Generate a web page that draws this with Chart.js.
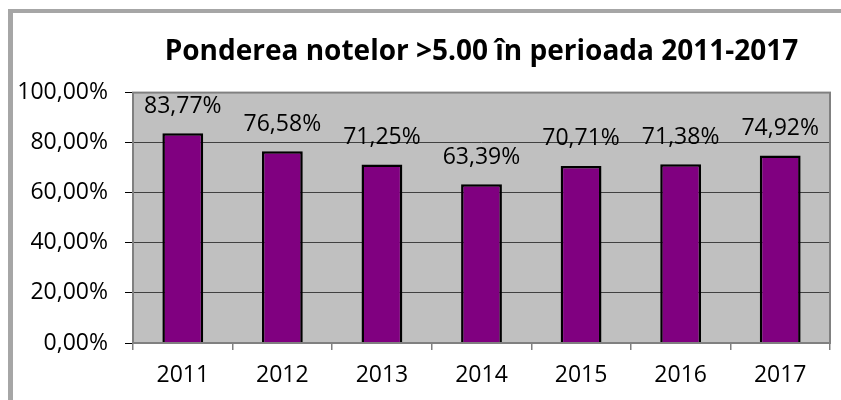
<!DOCTYPE html>
<html>
<head>
<meta charset="utf-8">
<script src="https://cdn.jsdelivr.net/npm/chart.js@4/dist/chart.umd.min.js"></script>
<style>
	html, body { margin: 0; padding: 0; background: #fff; overflow: hidden; }
</style>
</head>
<body>
<canvas id="chart" width="841" height="400"></canvas>
<script>
const years = ['2011', '2012', '2013', '2014', '2015', '2016', '2017'];
const ponderi = [83.77, 76.58, 71.25, 63.39, 70.71, 71.38, 74.92];
const titlu = 'Ponderea notelor >5.00 în perioada 2011-2017';

function procent(v) {
	return v.toFixed(2).replace('.', ',') + '%';
}

// chenarul exterior, fundal gri pentru zona graficului + chenar
const plotBack = {
	id: 'plotBack',
	beforeDraw(chart) {
		const a = chart.chartArea, ctx = chart.ctx;
		ctx.save();
		ctx.fillStyle = '#A6A6A6';
		ctx.fillRect(8, 9, 5, chart.height);
		ctx.fillRect(8, 9, chart.width, 4);
		ctx.fillStyle = '#C0C0C0';
		ctx.fillRect(a.left, a.top, a.right - a.left, a.bottom - a.top);
		ctx.restore();
	},
	afterDraw(chart) {
		const a = chart.chartArea, ctx = chart.ctx;
		ctx.save();
		ctx.strokeStyle = '#808080';
		ctx.lineWidth = 2;
		ctx.strokeRect(a.left, a.top, a.right - a.left, a.bottom - a.top);
		ctx.restore();
	}
};

// etichete deasupra barelor
const barLabels = {
	id: 'barLabels',
	afterDatasetsDraw(chart) {
		const ctx = chart.ctx;
		const meta = chart.getDatasetMeta(0);
		ctx.save();
		ctx.font = '23px "Open Sans"';
		ctx.fillStyle = '#000';
		ctx.textAlign = 'center';
		ctx.textBaseline = 'middle';
		meta.data.forEach((bar, i) => {
			ctx.fillText(procent(ponderi[i]), bar.x, bar.y - 27);
		});
		ctx.restore();
	}
};

const config = {
	type: 'bar',
	data: {
		labels: years,
		datasets: [{
			data: ponderi,
			backgroundColor: '#800080',
			borderColor: '#000000',
			borderWidth: 2.5,
			barPercentage: 0.41,
			categoryPercentage: 1
		}]
	},
	options: {
		responsive: false,
		animation: false,
		layout: { padding: { left: 0, right: 11, top: 0, bottom: 0 } },
		plugins: {
			legend: { display: false },
			tooltip: { enabled: false },
			title: {
				display: true,
				text: titlu,
				fullSize: false,
				color: '#000',
				font: { family: 'Open Sans', size: 28, weight: 'bold', lineHeight: 1.2 },
				padding: { top: 35, bottom: 24 }
			}
		},
		scales: {
			x: {
				grid: {
					offset: true,
					drawOnChartArea: false,
					tickLength: 7,
					tickColor: '#808080',
					lineWidth: 1.5
				},
				border: { display: false },
				ticks: {
					color: '#000',
					padding: 12,
					font: { family: 'Open Sans', size: 23 }
				},
				afterFit(scale) { scale.height = 57; }
			},
			y: {
				min: 0,
				max: 100,
				grid: {
					color: '#404040',
					lineWidth: 1,
					tickLength: 8,
					tickColor: '#000'
				},
				border: { display: false },
				ticks: {
					stepSize: 20,
					color: '#000',
					padding: 17,
					font: { family: 'Open Sans', size: 23 },
					callback: (v) => procent(v)
				},
				afterFit(scale) { scale.width = 133; }
			}
		}
	},
	plugins: [plotBack, barLabels]
};

new Chart(document.getElementById('chart'), config);
</script>
</body>
</html>
